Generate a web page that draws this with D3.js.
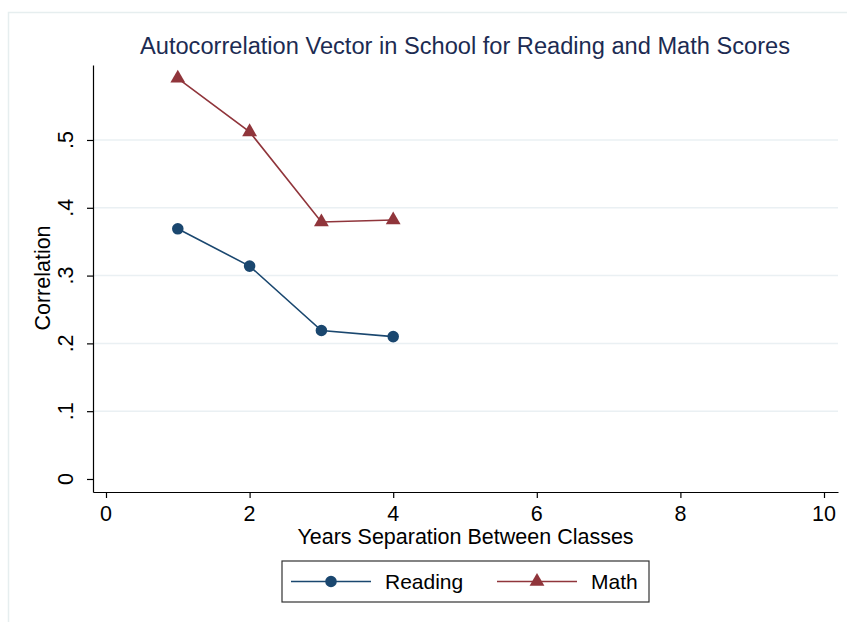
<!DOCTYPE html>
<html lang="en">
<head>
    <meta charset="UTF-8">
    <script src="https://d3js.org/d3.v7.min.js"></script>
    <title>Autocorrelation Vector</title>
    <style>
        body { margin: 0; background: #fff; }
        svg { display: block; font-family: 'Liberation Sans', Arial, sans-serif; }
        text.tick { fill: #000; font-size: 21.5px; }
        text.axlabel { fill: #000; font-size: 21.5px; text-anchor: middle; }
        text.title { fill: #1c2b52; font-size: 23px; text-anchor: middle; }
        text.legend { fill: #000; font-size: 21px; }
    </style>
</head>
<body>
<svg height="622" width="847"></svg>
<script>
    const width = 847, height = 622;

    const years = [1, 2, 3, 4];
    const reading = [0.369, 0.314, 0.219, 0.210];
    const math = [0.591, 0.512, 0.379, 0.382];
    const xTicks = [0, 2, 4, 6, 8, 10];
    const yTicks = [0, 0.1, 0.2, 0.3, 0.4, 0.5];
    const yTickLabels = ["0", ".1", ".2", ".3", ".4", ".5"];

    const navy = "#1a476f", maroon = "#90353b";

    const svg = d3.select("svg");

    // light outer frame of the graph region
    svg.append("rect").attr("x", 8.5).attr("y", 12.5)
        .attr("width", width).attr("height", height)
        .attr("fill", "none").attr("stroke", "#e6eeef").attr("stroke-width", 1.5);

    // scales: domain padded so the axis lines run past the end ticks like Stata
    const x = d3.scaleLinear().domain([-0.181, 10.195]).range([93, 838]);
    const y = d3.scaleLinear().domain([-0.0192, 0.6106]).range([492, 65]);

    // grid lines
    svg.append("g").selectAll("line").data(yTicks.slice(1)).enter().append("line")
        .attr("x1", 93).attr("x2", 838)
        .attr("y1", d => y(d)).attr("y2", d => y(d))
        .attr("stroke", "#eaf0f3").attr("stroke-width", 1.5);

    // y axis
    const gy = svg.append("g").attr("transform", "translate(93,0)")
        .call(d3.axisLeft(y).tickValues(yTicks).tickSize(6).tickSizeOuter(0).tickFormat(""));
    gy.selectAll("path, line").attr("stroke", "#000").attr("stroke-width", 1.2);
    svg.append("g").selectAll("text").data(yTicks).enter().append("text")
        .attr("class", "tick")
        .attr("transform", (d, i) => `translate(73,${y(d)}) rotate(-90)`)
        .attr("text-anchor", "middle")
        .text((d, i) => yTickLabels[i]);

    // x axis
    const gx = svg.append("g").attr("transform", "translate(0,492)")
        .call(d3.axisBottom(x).tickValues(xTicks).tickSize(6).tickSizeOuter(0).tickFormat(""));
    gx.selectAll("path, line").attr("stroke", "#000").attr("stroke-width", 1.2);
    svg.append("g").selectAll("text").data(xTicks).enter().append("text")
        .attr("class", "tick")
        .attr("x", d => x(d)).attr("y", 521)
        .attr("text-anchor", "middle")
        .text(d => d);

    // axis titles
    svg.append("text").attr("class", "axlabel")
        .attr("x", 465.5).attr("y", 544)
        .text("Years Separation Between Classes");
    svg.append("text").attr("class", "axlabel")
        .attr("transform", "translate(50,278) rotate(-90)")
        .text("Correlation");

    // title
    svg.append("text").attr("class", "title")
        .attr("x", 465).attr("y", 54)
        .attr("textLength", 650).attr("lengthAdjust", "spacingAndGlyphs")
        .text("Autocorrelation Vector in School for Reading and Math Scores");

    // series
    const line = d3.line().x(d => x(d[0])).y(d => y(d[1]));
    const readPts = years.map((d, i) => [d, reading[i]]);
    const mathPts = years.map((d, i) => [d, math[i]]);

    svg.append("path").datum(readPts).attr("d", line)
        .attr("fill", "none").attr("stroke", navy).attr("stroke-width", 1.6);
    svg.append("path").datum(mathPts).attr("d", line)
        .attr("fill", "none").attr("stroke", maroon).attr("stroke-width", 1.6);

    const circle = d3.symbol().type(d3.symbolCircle).size(105);
    const tri = d3.symbol().type(d3.symbolTriangle).size(95);

    svg.append("g").selectAll("path").data(readPts).enter().append("path")
        .attr("d", circle)
        .attr("transform", d => `translate(${x(d[0])},${y(d[1])})`)
        .attr("fill", navy);
    svg.append("g").selectAll("path").data(mathPts).enter().append("path")
        .attr("d", tri)
        .attr("transform", d => `translate(${x(d[0])},${y(d[1])})`)
        .attr("fill", maroon);

    // legend
    const lg = svg.append("g");
    lg.append("rect").attr("x", 282).attr("y", 561).attr("width", 367).attr("height", 41)
        .attr("fill", "#fff").attr("stroke", "#333").attr("stroke-width", 1.2);
    const legendItems = [
        {name: "Reading", color: navy, sym: circle, x0: 291},
        {name: "Math", color: maroon, sym: tri, x0: 497}
    ];
    legendItems.forEach(it => {
        lg.append("line").attr("x1", it.x0).attr("x2", it.x0 + 80)
            .attr("y1", 581.5).attr("y2", 581.5)
            .attr("stroke", it.color).attr("stroke-width", 1.6);
        lg.append("path").attr("d", it.sym)
            .attr("transform", `translate(${it.x0 + 40},581.5)`)
            .attr("fill", it.color);
        lg.append("text").attr("class", "legend")
            .attr("x", it.x0 + 94).attr("y", 589)
            .text(it.name);
    });
</script>
</body>
</html>
